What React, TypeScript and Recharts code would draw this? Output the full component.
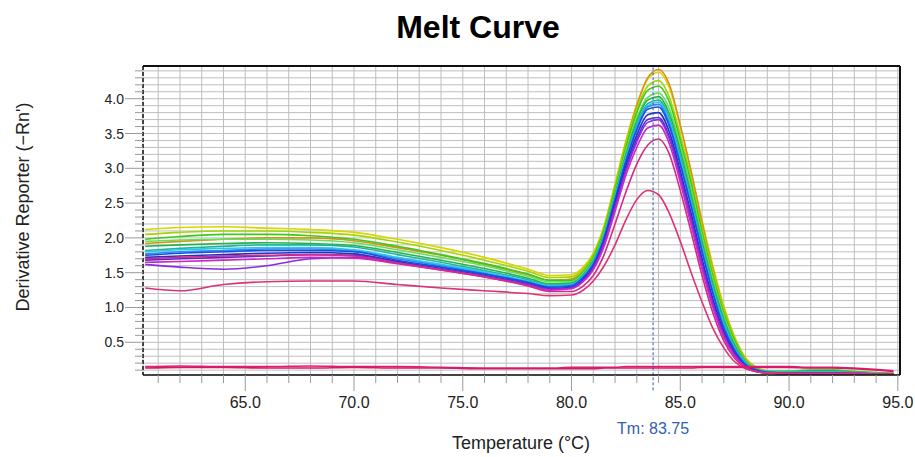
import { LineChart, Line, XAxis, YAxis, CartesianGrid, ReferenceLine } from 'recharts';

const temps = [60.4, 62, 64, 66, 68, 70, 72, 74, 76, 78, 79, 80, 80.5, 81, 81.5, 82, 82.5, 83, 83.5, 84, 84.5, 85, 85.5, 86, 86.5, 87, 87.5, 88, 88.5, 89, 90, 91, 92, 93, 94.8];

// derivative reporter (-Rn') per well
const yellow = [2.12, 2.15, 2.16, 2.14, 2.12, 2.08, 1.98, 1.86, 1.72, 1.55, 1.46, 1.47, 1.57, 1.78, 2.18, 2.78, 3.4, 3.92, 4.28, 4.38, 4.15, 3.6, 2.95, 2.25, 1.6, 1.02, 0.58, 0.28, 0.14, 0.09, 0.07, 0.07, 0.08, 0.07, 0.05];
const orange = [1.92, 1.95, 1.98, 2.0, 2.0, 1.96, 1.86, 1.75, 1.62, 1.47, 1.39, 1.41, 1.51, 1.72, 2.12, 2.72, 3.36, 3.9, 4.3, 4.42, 4.2, 3.62, 2.95, 2.22, 1.55, 0.98, 0.55, 0.26, 0.13, 0.08, 0.07, 0.07, 0.07, 0.06, 0.05];
const lime = [2.05, 2.08, 2.1, 2.1, 2.08, 2.04, 1.94, 1.82, 1.68, 1.52, 1.43, 1.44, 1.54, 1.76, 2.16, 2.75, 3.35, 3.85, 4.18, 4.26, 4.02, 3.48, 2.85, 2.15, 1.52, 0.97, 0.55, 0.26, 0.13, 0.09, 0.08, 0.09, 0.1, 0.08, 0.05];
const green = [1.98, 2.02, 2.05, 2.05, 2.03, 1.98, 1.88, 1.76, 1.63, 1.48, 1.39, 1.39, 1.5, 1.72, 2.12, 2.7, 3.3, 3.8, 4.12, 4.18, 3.95, 3.4, 2.78, 2.08, 1.45, 0.92, 0.52, 0.24, 0.12, 0.09, 0.09, 0.1, 0.1, 0.08, 0.05];
const lightGreen = [1.95, 1.97, 1.98, 1.98, 1.97, 1.93, 1.83, 1.72, 1.6, 1.45, 1.37, 1.37, 1.48, 1.69, 2.08, 2.65, 3.25, 3.72, 4.02, 4.08, 3.85, 3.32, 2.7, 2.02, 1.4, 0.88, 0.49, 0.23, 0.12, 0.09, 0.09, 0.09, 0.09, 0.07, 0.05];
const seaGreen = [1.88, 1.9, 1.92, 1.93, 1.92, 1.89, 1.79, 1.68, 1.56, 1.42, 1.34, 1.35, 1.46, 1.67, 2.05, 2.62, 3.2, 3.68, 3.98, 4.03, 3.78, 3.25, 2.62, 1.95, 1.34, 0.83, 0.46, 0.22, 0.11, 0.08, 0.08, 0.09, 0.09, 0.07, 0.05];
const teal = [1.82, 1.85, 1.88, 1.9, 1.9, 1.87, 1.76, 1.65, 1.53, 1.4, 1.32, 1.34, 1.45, 1.66, 2.04, 2.6, 3.17, 3.63, 3.93, 3.98, 3.72, 3.18, 2.56, 1.9, 1.3, 0.8, 0.44, 0.21, 0.11, 0.08, 0.07, 0.08, 0.08, 0.06, 0.04];
const cyan = [1.8, 1.83, 1.85, 1.86, 1.86, 1.83, 1.72, 1.62, 1.51, 1.38, 1.31, 1.33, 1.44, 1.64, 2.02, 2.58, 3.14, 3.6, 3.9, 3.95, 3.68, 3.12, 2.5, 1.85, 1.25, 0.76, 0.41, 0.2, 0.1, 0.07, 0.07, 0.07, 0.07, 0.06, 0.04];
const skyBlue = [1.77, 1.8, 1.82, 1.84, 1.84, 1.81, 1.7, 1.6, 1.49, 1.37, 1.3, 1.32, 1.43, 1.63, 2.01, 2.56, 3.12, 3.58, 3.88, 3.92, 3.64, 3.08, 2.47, 1.82, 1.22, 0.73, 0.4, 0.19, 0.1, 0.07, 0.06, 0.06, 0.06, 0.05, 0.04];
const blue = [1.75, 1.78, 1.8, 1.82, 1.82, 1.8, 1.68, 1.58, 1.48, 1.36, 1.29, 1.31, 1.42, 1.62, 2.0, 2.55, 3.1, 3.55, 3.85, 3.88, 3.6, 3.05, 2.45, 1.8, 1.2, 0.7, 0.38, 0.18, 0.1, 0.07, 0.06, 0.06, 0.06, 0.05, 0.04];
const darkBlue = [1.72, 1.74, 1.76, 1.78, 1.79, 1.77, 1.66, 1.56, 1.46, 1.34, 1.27, 1.29, 1.39, 1.59, 1.96, 2.5, 3.04, 3.48, 3.77, 3.8, 3.52, 2.96, 2.35, 1.7, 1.12, 0.65, 0.35, 0.16, 0.09, 0.06, 0.05, 0.05, 0.05, 0.05, 0.04];
const indigo = [1.68, 1.7, 1.72, 1.74, 1.76, 1.75, 1.65, 1.55, 1.45, 1.33, 1.26, 1.28, 1.38, 1.58, 1.94, 2.46, 2.99, 3.42, 3.7, 3.73, 3.45, 2.9, 2.28, 1.64, 1.07, 0.62, 0.33, 0.15, 0.08, 0.06, 0.05, 0.05, 0.05, 0.05, 0.04];
const violet = [1.62, 1.58, 1.55, 1.6, 1.7, 1.72, 1.64, 1.55, 1.45, 1.33, 1.26, 1.28, 1.37, 1.56, 1.92, 2.43, 2.96, 3.38, 3.66, 3.7, 3.42, 2.86, 2.24, 1.6, 1.04, 0.6, 0.32, 0.15, 0.08, 0.06, 0.05, 0.05, 0.05, 0.05, 0.04];
const magenta = [1.65, 1.66, 1.68, 1.7, 1.72, 1.71, 1.63, 1.54, 1.44, 1.32, 1.25, 1.27, 1.36, 1.54, 1.88, 2.38, 2.9, 3.3, 3.58, 3.62, 3.35, 2.8, 2.18, 1.55, 1.0, 0.57, 0.3, 0.14, 0.08, 0.06, 0.05, 0.05, 0.05, 0.05, 0.04];
const pink = [1.7, 1.72, 1.74, 1.75, 1.76, 1.74, 1.64, 1.54, 1.44, 1.31, 1.23, 1.23, 1.3, 1.46, 1.76, 2.2, 2.66, 3.06, 3.33, 3.42, 3.2, 2.68, 2.08, 1.46, 0.92, 0.52, 0.27, 0.13, 0.08, 0.06, 0.05, 0.05, 0.05, 0.05, 0.04];
const pinkLow = [1.28, 1.24, 1.33, 1.37, 1.38, 1.38, 1.33, 1.28, 1.24, 1.2, 1.17, 1.18, 1.24, 1.38, 1.6, 1.9, 2.26, 2.55, 2.68, 2.62, 2.35, 1.95, 1.5, 1.08, 0.7, 0.42, 0.22, 0.12, 0.08, 0.06, 0.05, 0.05, 0.05, 0.05, 0.04];
const ntcA = [0.15, 0.16, 0.15, 0.15, 0.16, 0.15, 0.15, 0.14, 0.13, 0.13, 0.13, 0.14, 0.14, 0.14, 0.14, 0.14, 0.15, 0.15, 0.15, 0.15, 0.15, 0.15, 0.15, 0.15, 0.15, 0.15, 0.15, 0.15, 0.15, 0.15, 0.15, 0.14, 0.14, 0.13, 0.09];
const ntcB = [0.13, 0.14, 0.14, 0.13, 0.13, 0.14, 0.13, 0.13, 0.12, 0.12, 0.12, 0.12, 0.12, 0.12, 0.13, 0.13, 0.13, 0.13, 0.13, 0.13, 0.13, 0.13, 0.13, 0.14, 0.14, 0.14, 0.14, 0.14, 0.14, 0.14, 0.14, 0.13, 0.13, 0.12, 0.08];

const wells = [
  { key: 'yellow', color: '#d6d600', values: yellow },
  { key: 'orange', color: '#d9901a', values: orange },
  { key: 'lime', color: '#a6d400', values: lime },
  { key: 'green', color: '#3cc81e', values: green },
  { key: 'lightGreen', color: '#66e05a', values: lightGreen },
  { key: 'seaGreen', color: '#22b44a', values: seaGreen },
  { key: 'teal', color: '#1eb4a0', values: teal },
  { key: 'cyan', color: '#28c8e6', values: cyan },
  { key: 'skyBlue', color: '#2e8cf0', values: skyBlue },
  { key: 'blue', color: '#1450e6', values: blue },
  { key: 'darkBlue', color: '#2232c0', values: darkBlue },
  { key: 'indigo', color: '#5a28d2', values: indigo },
  { key: 'violet', color: '#8a2be2', values: violet },
  { key: 'magenta', color: '#c828c8', values: magenta },
  { key: 'pink', color: '#d42a88', values: pink },
  { key: 'pinkLow', color: '#dc3278', values: pinkLow },
  { key: 'ntcA', color: '#e0206a', values: ntcA },
  { key: 'ntcB', color: '#d8186e', values: ntcB },
];

const tm = 83.75;
const xMajorTicks = [65, 70, 75, 80, 85, 90, 95];
const yMajorTicks = [0.5, 1.0, 1.5, 2.0, 2.5, 3.0, 3.5, 4.0];
// grid / minor ticks: every 1 °C and every 0.1
const xMinorTicks = Array.from({ length: 35 }, (_, i) => 61 + i);
const yMinorTicks = Array.from({ length: 44 }, (_, i) => (i + 1) / 10);

const X_DOMAIN: [number, number] = [60.3, 95.1];
const Y_DOMAIN: [number, number] = [0.03, 4.47];

const W = 915;
const H = 457;
const PLOT_LEFT = 143;
const PLOT_TOP = 66;
const PLOT_RIGHT = 900;
const PLOT_BOTTOM = 375;
const Y_AXIS_W = 60;
const X_AXIS_H = 30;
const FONT = '"Liberation Sans", Arial, sans-serif';

const rows = temps.map((t, i) => {
  const row: Record<string, number> = { t };
  wells.forEach((w) => {
    row[w.key] = w.values[i];
  });
  return row;
});

const XTick = (props: any) => {
  const { x, payload } = props;
  const v = payload.value;
  const major = xMajorTicks.includes(v);
  return (
    <g>
      <line x1={x} x2={x} y1={PLOT_BOTTOM} y2={PLOT_BOTTOM + (major ? 16 : 8)} stroke="#9a9a9a" />
      {major && (
        <text x={x} y={408} textAnchor="middle" fontSize={16} fontFamily={FONT} fill="#222">
          {v.toFixed(1)}
        </text>
      )}
    </g>
  );
};

const YTick = (props: any) => {
  const { y, payload } = props;
  const v = payload.value;
  const major = yMajorTicks.some((m) => Math.abs(m - v) < 1e-6);
  return (
    <g>
      <line x1={PLOT_LEFT - (major ? 18 : 8)} x2={PLOT_LEFT} y1={y} y2={y} stroke="#9a9a9a" />
      {major && (
        <text x={124} y={y + 5} textAnchor="end" fontSize={14} fontFamily={FONT} fill="#222">
          {v.toFixed(1)}
        </text>
      )}
    </g>
  );
};

export default function App() {
  return (
    <div style={{ position: 'absolute', left: 0, top: 0, width: W, height: H, background: '#fff' }}>
      <LineChart
        width={W}
        height={H}
        data={rows}
        margin={{
          top: PLOT_TOP,
          right: W - PLOT_RIGHT,
          left: PLOT_LEFT - Y_AXIS_W,
          bottom: H - PLOT_BOTTOM - X_AXIS_H,
        }}
      >
        <CartesianGrid stroke="#bebebe" strokeWidth={1} />
        <XAxis
          dataKey="t"
          type="number"
          domain={X_DOMAIN}
          ticks={xMinorTicks}
          interval={0}
          allowDataOverflow
          height={X_AXIS_H}
          tickSize={0}
          tickMargin={0}
          tickLine={false}
          tick={<XTick />}
          axisLine={{ stroke: '#111', strokeWidth: 1.5 }}
        />
        <YAxis
          type="number"
          domain={Y_DOMAIN}
          ticks={yMinorTicks}
          interval={0}
          allowDataOverflow
          width={Y_AXIS_W}
          tickSize={0}
          tickMargin={0}
          tickLine={false}
          tick={<YTick />}
          axisLine={{ stroke: '#111', strokeWidth: 1.5, strokeDasharray: '4 2' }}
        />
        <ReferenceLine y={Y_DOMAIN[1]} stroke="#111" strokeWidth={2} />
        <ReferenceLine x={X_DOMAIN[1]} stroke="#111" strokeWidth={2} />
        {wells.map((w) => (
          <Line
            key={w.key}
            dataKey={w.key}
            type="monotone"
            stroke={w.color}
            strokeWidth={1.6}
            dot={false}
            activeDot={false}
            isAnimationActive={false}
          />
        ))}
        <ReferenceLine
          segment={[
            { x: tm, y: Y_DOMAIN[0] - 0.22 },
            { x: tm, y: Y_DOMAIN[1] },
          ]}
          ifOverflow="visible"
          stroke="#2f5fb8"
          strokeWidth={1}
          strokeDasharray="3 2"
          label={{
            value: `Tm: ${tm}`,
            position: 'bottom',
            offset: 32,
            fill: '#3060b0',
            fontSize: 16,
            fontFamily: FONT,
          }}
        />
      </LineChart>
      <svg width={W} height={H} style={{ position: 'absolute', left: 0, top: 0, pointerEvents: 'none' }}>
        <text x={478} y={38} textAnchor="middle" fontSize={32} fontWeight="bold" fontFamily={FONT} fill="#000">
          Melt Curve
        </text>
        <text
          x={23}
          y={207}
          transform="rotate(-90 23 207)"
          textAnchor="middle"
          dominantBaseline="central"
          fontSize={18}
          fontFamily={FONT}
          fill="#222"
        >
          Derivative Reporter (−Rn')
        </text>
        <text x={521} y={449} textAnchor="middle" fontSize={18} fontFamily={FONT} fill="#222">
          Temperature (°C)
        </text>
      </svg>
    </div>
  );
}
